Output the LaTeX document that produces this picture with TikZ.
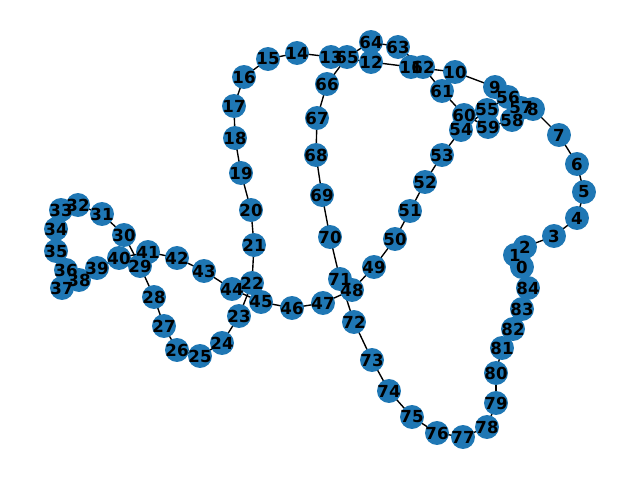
\documentclass[tikz,border=0pt]{standalone}
\usepackage{fontspec}
\setmainfont{DejaVu Sans}
\usepackage{tikz}
\usetikzlibrary{backgrounds}
\definecolor{nodeblue}{HTML}{1F77B4}

\begin{document}
\begin{tikzpicture}[x=0.0254cm, y=-0.0254cm,
    dot/.style = {circle, fill=nodeblue, minimum size=17.32pt, inner sep=0pt, outer sep=0pt},
    lbl/.style = {inner sep=0pt, font=\fontsize{12}{14}\selectfont\bfseries},
    link/.style = {draw=black, line width=1pt}]
\useasboundingbox (0,0) rectangle (640,480);
\foreach \n/\px/\py in {0/522/267, 1/515/255, 2/525/247, 3/554/236, 4/577/218,
    5/584/192, 6/577/164, 7/559/135, 8/533/109, 9/495/87, 10/455/72,
    11/411/67, 12/371/62, 13/331/57, 14/297/53, 15/268/59, 16/244/77,
    17/234/106, 18/235/138, 19/241/173, 20/251/210, 21/254/245, 22/252/283,
    23/239/316, 24/222/343, 25/200/356, 26/177/350, 27/164/326, 28/154/297,
    29/140/266, 30/124/235, 31/102/214, 32/78/205, 33/61/210, 34/56/229,
    35/56/251, 36/66/270, 37/62/288, 38/79/280, 39/97/268, 40/119/258,
    41/148/252, 42/177/258, 43/204/271, 44/232/289, 45/261/302, 46/292/308,
    47/323/303, 48/352/290, 49/374/267, 50/395/239, 51/410/211, 52/425/182,
    53/442/155, 54/461/130, 55/487/110, 56/508/97, 57/521/108, 58/512/120,
    59/488/127, 60/464/115, 61/442/91, 62/423/67, 63/398/47, 64/371/42,
    65/347/57, 66/327/84, 67/317/118, 68/316/155, 69/322/195, 70/330/237,
    71/340/279, 72/354/322, 73/372/360, 74/389/391, 75/412/417, 76/437/433,
    77/463/437, 78/487/427, 79/496/403, 80/496/373, 81/502/348, 82/513/329,
    83/522/309, 84/528/288} {
    \node (n\n) [dot] at (\px,\py) {};
}
%%% the ring: every node to the next, 84 back to 0
\begin{scope}[on background layer]
\foreach \n in {0,...,84} {
    \pgfmathtruncatemacro{\m}{mod(\n + 1, 85)};
    \draw [link] (n\n.center) -- (n\m.center);
}
\end{scope}
\foreach \n in {0,...,84} {
    \node (t\n) [lbl] at (n\n) {\n};
}
\end{tikzpicture}
\end{document}
